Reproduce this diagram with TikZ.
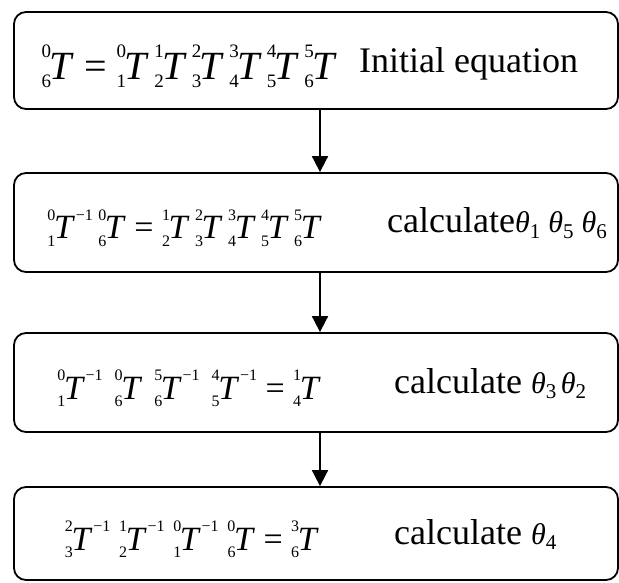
\documentclass[tikz,border=0pt]{standalone}
\usepackage{amsmath}
\usepackage{fontspec}
\setmainfont{Liberation Serif}
\usetikzlibrary{arrows.meta}
\newlength\supr
\newlength\subl
\newlength\gapl
\newcommand{\idxfont}{}
\newcommand{\lT}[2]{\mbox{\rlap{\raisebox{\supr}{\idxfont #1}}\raisebox{-\subl}{\idxfont #2}\kern-0.04em\textit{T}}}
\newcommand{\inv}{\raisebox{\supr}{\idxfont\kern0.05em −1}}
\newcommand{\g}{\kern\gapl}
\newcommand{\eqs}{\kern0.25em=\kern0.25em}
\newcommand{\tth}[1]{\text{\itshape θ}_{\text{#1}}}
\begin{document}
\begin{tikzpicture}[x=1pt,y=-1pt,
  box/.style={draw, line width=1.8pt, rounded corners=12pt, minimum width=604pt, inner sep=0pt},
  eq/.style={anchor=base east, inner sep=0pt},
  eqbig/.style={eq, font={\fontsize{40}{44}\selectfont\renewcommand\idxfont{\fontsize{19}{19}\selectfont}\setlength\supr{22pt}\setlength\subl{8pt}\setlength\gapl{5pt}}},
  eqsmall/.style={eq, font={\fontsize{34}{38}\selectfont\renewcommand\idxfont{\fontsize{16}{16}\selectfont}\setlength\supr{19pt}\setlength\subl{7pt}\setlength\gapl{#1}}},
  lab/.style={anchor=base west, inner sep=0pt, font=\fontsize{36}{42}\selectfont},
  arr/.style={line width=1.8pt, -{Triangle[width=16pt,length=16pt]}}]
\useasboundingbox (0,0) rectangle (619,583);
\node[box, minimum height=97pt] (b1) at (316,60.5) {};
\node[box, minimum height=99pt] (b2) at (316,222.5) {};
\node[box, minimum height=99pt] (b3) at (316,382.5) {};
\node[box, minimum height=93pt] (b4) at (316,533.5) {};

\node[eqbig] (e1) at (337,80) {\lT06\eqs\lT01\g\lT12\g\lT23\g\lT34\g\lT45\g\lT56};
\node[lab] (t1) at (359,73) {Initial equation};

\node[eqsmall=5.5pt] (e2) at (322,239) {\lT01\inv\g\lT06\eqs\lT12\g\lT23\g\lT34\g\lT45\g\lT56};
\node[lab] (t2) at (387,233) {calculate{\fontsize{30}{36}\selectfont$\tth1\ \tth5\ \tth6$}};

\node[eqsmall=12pt] (e3) at (321,399) {\lT01\inv\g\lT06\g\lT56\inv\g\lT45\inv\eqs\lT14};
\node[lab] (t3) at (394,393) {calculate {\fontsize{30}{36}\selectfont$\tth3\,\tth2$}};

\node[eqsmall=8.8pt] (e4) at (319,550) {\lT23\inv\g\lT12\inv\g\lT01\inv\g\lT06\eqs\lT36};
\node[lab] (t4) at (394,544) {calculate {\fontsize{30}{36}\selectfont$\tth4$}};

\draw[arr] ([xshift=4pt]b1.south) -- ([xshift=4pt]b2.north);
\draw[arr] ([xshift=4pt]b2.south) -- ([xshift=4pt]b3.north);
\draw[arr] ([xshift=4pt]b3.south) -- ([xshift=4pt]b4.north);
\end{tikzpicture}
\end{document}
